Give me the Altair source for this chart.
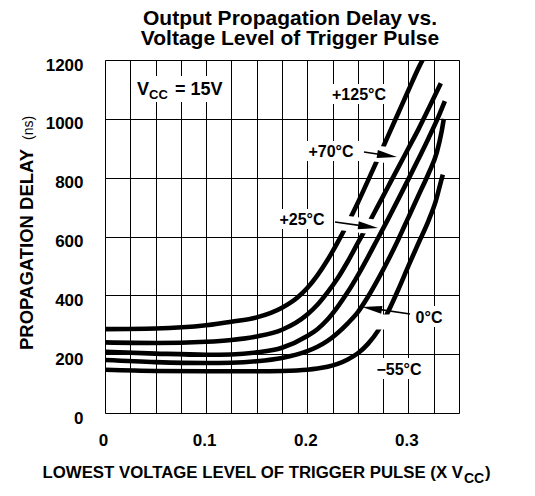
import altair as alt
import pandas as pd

# ---- curve data ----
T125_X = [0, 0.05, 0.1, 0.125, 0.15, 0.175, 0.19, 0.2, 0.21, 0.22, 0.23, 0.24,
          0.25, 0.26, 0.27, 0.28, 0.29, 0.3, 0.311, 0.314]
T125_Y = [285, 287, 298, 310, 325, 358, 392, 425, 468, 520, 580, 645,
          715, 790, 866, 943, 1020, 1097, 1180, 1200]

T70_X = [0, 0.05, 0.1, 0.125, 0.15, 0.175, 0.2, 0.21, 0.22, 0.23, 0.24, 0.25,
         0.26, 0.27, 0.28, 0.29, 0.3, 0.31, 0.32, 0.332]
T70_Y = [240, 238, 242, 248, 260, 283, 335, 368, 410, 458, 515, 578,
         640, 705, 770, 835, 900, 965, 1035, 1121]

T25_X = [0, 0.05, 0.1, 0.125, 0.15, 0.175, 0.2, 0.21, 0.22, 0.23, 0.24, 0.25,
         0.26, 0.27, 0.28, 0.29, 0.3, 0.31, 0.32, 0.33, 0.336]
T25_Y = [208, 202, 198, 199, 206, 222, 262, 285, 318, 361, 411, 468,
         530, 595, 660, 727, 795, 864, 935, 1010, 1060]

T0_X = [0, 0.05, 0.1, 0.125, 0.15, 0.175, 0.2, 0.21, 0.22, 0.23, 0.24, 0.25,
        0.26, 0.27, 0.28, 0.29, 0.3, 0.31, 0.32, 0.328, 0.333, 0.335]
T0_Y = [180, 173, 170, 171, 176, 187, 210, 225, 245, 272, 305, 343,
        395, 455, 520, 590, 665, 740, 815, 885, 960, 1000]

TM55_X = [0, 0.05, 0.1, 0.15, 0.175, 0.2, 0.21, 0.22, 0.23, 0.24, 0.25, 0.26,
          0.27, 0.28, 0.29, 0.3, 0.31, 0.32, 0.327, 0.332, 0.334]
TM55_Y = [147, 143, 142, 142, 143, 147, 151, 157, 167, 182, 203, 235,
          280, 345, 420, 500, 578, 655, 720, 785, 810]

SERIES = ["+125", "+70", "+25", "0", "-55"]

X_GRID = [0, 0.025, 0.05, 0.075, 0.1, 0.125, 0.15, 0.175, 0.2, 0.225,
          0.25, 0.275, 0.3, 0.325, 0.35]
Y_TICKS = [0, 200, 400, 600, 800, 1000, 1200]

rows = []
for name, xs_, ys_ in zip(SERIES, [T125_X, T70_X, T25_X, T0_X, TM55_X],
                          [T125_Y, T70_Y, T25_Y, T0_Y, TM55_Y]):
    for a, b in zip(xs_, ys_):
        rows.append({"series": name, "x": a, "y": b})
df = pd.DataFrame(rows)

W, H = 354, 353
SANS = "'Liberation Sans', Arial, sans-serif"

xscale = alt.Scale(domain=[0, 0.35], nice=False, zero=False)
yscale = alt.Scale(domain=[0, 1200], nice=False)

curves = alt.Chart(df).mark_line(
    strokeWidth=4.6, color="black", interpolate="monotone", clip=True
).encode(
    x=alt.X("x:Q", scale=xscale, axis=alt.Axis(
        values=X_GRID, grid=True, gridColor="black", gridWidth=1, gridOpacity=1,
        domain=False, ticks=False, title=None,
        labelExpr="datum.value == 0 ? '0' : (abs(datum.value*10 - round(datum.value*10)) < 0.000001 ? format(datum.value, '.1f') : '')",
        labelFont=SANS, labelFontWeight="bold", labelFontSize=17, labelColor="black",
        labelPadding=19, labelOverlap=False, labelFlush=False, labelBound=False, labelOffset=-2)),
    y=alt.Y("y:Q", scale=yscale, axis=alt.Axis(
        values=Y_TICKS, grid=True, gridColor="black", gridWidth=1, gridOpacity=1,
        domain=False, ticks=False, title=None, format="d",
        labelFont=SANS, labelFontWeight="bold", labelFontSize=17, labelColor="black",
        labelPadding=22, labelOverlap=False, labelFlush=False, labelBound=False, labelOffset=5)),
    detail="series:N",
)

one = pd.DataFrame({"k": [0]})


def txt(s, x, y, size, font=SANS, weight="bold", align="left", angle=0, baseline="alphabetic"):
    kw = dict(text=s, fontSize=size, font=font, fontWeight=weight, align=align,
              baseline=baseline, color="black")
    if angle:
        kw["angle"] = angle
    return alt.Chart(one).mark_text(**kw).encode(x=alt.value(x), y=alt.value(y))


def rect(x1, y1, x2, y2):
    return alt.Chart(one).mark_rect(color="white").encode(
        x=alt.value(x1), x2=alt.value(x2), y=alt.value(y1), y2=alt.value(y2))


def rule(x1, y1, x2, y2, w, color):
    return alt.Chart(one).mark_rule(color=color, strokeWidth=w).encode(
        x=alt.value(x1), x2=alt.value(x2), y=alt.value(y1), y2=alt.value(y2))


HEAD = "M 1 0 L -1 -0.4 L -1 0.4 Z"


def head(x, y, ang):
    return alt.Chart(one).mark_point(shape=HEAD, filled=True, size=400, color="black",
                                     opacity=1, angle=ang).encode(
        x=alt.value(x), y=alt.value(y))


layers = [curves]

# white gaps where arrows cross curves
layers += [
    rule(266, 93, 282, 95, 16, "white"),
    rule(235, 162.5, 269, 167, 15, "white"),
    rule(269, 262, 287, 262, 15, "white"),
]

# arrows
layers += [
    rule(259, 92, 282, 95.5, 1.6, "black"), head(282.1, 95.5, 8.6),
    rule(230, 162, 263, 166.6, 1.6, "black"), head(263.1, 166.6, 7.9),
    rule(305, 254, 267, 248.4, 1.6, "black"), head(266.9, 248.4, 188.3),
]

# label backgrounds
layers += [
    rect(28, 16, 122, 42),
    rect(221, 24, 286, 44),
    rect(198, 81, 254, 101),
    rect(168, 149, 225, 169),
    rect(306, 246, 342, 267),
    rect(263, 298, 324, 319),
]

# in-plot labels
layers += [
    txt("V", 32, 35, 18),
    txt("CC", 44, 39, 13),
    txt("= 15V", 70, 35, 18),
    txt("+125°C", 254, 40, 16, align="center"),
    txt("+70°C", 226, 97, 16, align="center"),
    txt("+25°C", 197, 165, 16, align="center"),
    txt("0°C", 324, 263, 16, align="center"),
    txt("\u221255°C", 294, 315, 16, align="center"),
]

# titles
layers += [
    txt("Output Propagation Delay vs.", 185, -35, 21, align="center"),
    txt("Voltage Level of Trigger Pulse", 185, -15, 21, align="center"),
    txt("LOWEST VOLTAGE LEVEL OF TRIGGER PULSE (X V", 358, 418, 16.8, align="right"),
    txt("CC", 359, 423, 14),
    txt(")", 380, 418, 16.8),
    txt("PROPAGATION DELAY", -72, 290, 18.5, angle=270),
    txt("(ns)", -72, 80, 14, weight="normal", angle=270),
]

chart = alt.layer(*layers).properties(
    width=W, height=H,
    autosize=alt.AutoSizeParams(type="none"),
    padding={"left": 97, "top": 52, "right": 60, "bottom": 75},
).configure_view(stroke="black", strokeWidth=2).configure(background="white")

chart.save("out.html", embed_options={"renderer": "svg", "actions": False})
